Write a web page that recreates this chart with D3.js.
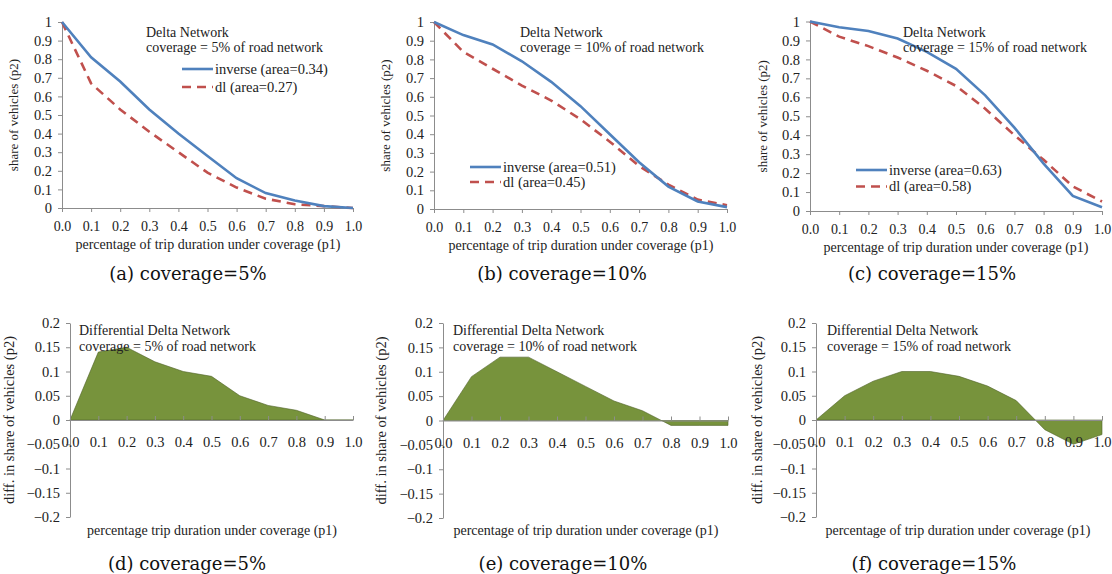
<!DOCTYPE html>
<html>
<head>
<meta charset="utf-8">
<title>Delta Network coverage</title>
<script src="https://cdn.jsdelivr.net/npm/d3@7"></script>
<style>
  body { margin: 0; background: #fff; }
  svg text { font-family: "Liberation Serif", "Times New Roman", serif; fill: #222; }
  .axis path, .axis line { stroke: #8c8c8c; }
  svg text.caption { font-family: "DejaVu Serif", serif; fill: #111; }
</style>
</head>
<body>
<script>
// x categories (p1)
var p1 = [0, 0.1, 0.2, 0.3, 0.4, 0.5, 0.6, 0.7, 0.8, 0.9, 1.0];
var xTickLabels = ["0.0", "0.1", "0.2", "0.3", "0.4", "0.5", "0.6", "0.7", "0.8", "0.9", "1.0"];

// top row: share of vehicles
var inverse5  = [1.0, 0.81, 0.68, 0.53, 0.40, 0.28, 0.16, 0.08, 0.04, 0.01, 0.00];
var dl5       = [1.0, 0.67, 0.53, 0.41, 0.30, 0.19, 0.11, 0.05, 0.02, 0.01, 0.00];
var inverse10 = [1.0, 0.93, 0.88, 0.79, 0.68, 0.55, 0.40, 0.25, 0.12, 0.04, 0.01];
var dl10      = [1.0, 0.84, 0.75, 0.66, 0.58, 0.48, 0.36, 0.23, 0.13, 0.05, 0.02];
var inverse15 = [1.0, 0.97, 0.95, 0.91, 0.84, 0.75, 0.61, 0.44, 0.25, 0.08, 0.02];
var dl15      = [1.0, 0.92, 0.87, 0.81, 0.74, 0.66, 0.54, 0.40, 0.27, 0.13, 0.05];

// bottom row: differential
var diff5  = [0, 0.14, 0.15, 0.12, 0.10, 0.09, 0.05, 0.03, 0.02, 0.00, 0.00];
var diff10 = [0, 0.09, 0.13, 0.13, 0.10, 0.07, 0.04, 0.02, -0.01, -0.01, -0.01];
var diff15 = [0, 0.05, 0.08, 0.10, 0.10, 0.09, 0.07, 0.04, -0.02, -0.05, -0.03];

var topYTicks = [0, 0.1, 0.2, 0.3, 0.4, 0.5, 0.6, 0.7, 0.8, 0.9, 1];
var bottomYTicks = [-0.2, -0.15, -0.1, -0.05, 0, 0.05, 0.1, 0.15, 0.2];

var coverages = ["5%", "10%", "15%"];
var areaLabels = [["0.34", "0.27"], ["0.51", "0.45"], ["0.63", "0.58"]];

var svg = d3.select("body").append("svg")
    .attr("width", 1112)
    .attr("height", 574)
    .attr("font-family", "Liberation Serif, serif");

var blue = "#4f81bd", red = "#c0504d", green = "#77933c";

function fmtY(d) {
    return d3.format("~g")(d);
}

function serifAxis(a, size) {
    a.attr("font-family", null).attr("font-size", null);
    a.selectAll("text").style("font-size", size).attr("fill", "#222");
}

// ---- top row: line charts ----
function lineChart(opt) {
    var x = d3.scaleLinear().domain([0, 1]).range([opt.x0, opt.x1]);
    var y = d3.scaleLinear().domain([0, 1]).range([opt.y1, opt.y0]);
    var g = svg.append("g");

    g.append("g").attr("class", "axis")
        .attr("transform", "translate(" + opt.x0 + ",0)")
        .call(d3.axisLeft(y).tickValues(topYTicks).tickFormat(fmtY).tickSize(4).tickSizeOuter(0).tickPadding(6))
        .call(serifAxis, "14.5px");

    g.append("g").attr("class", "axis")
        .attr("transform", "translate(0," + opt.y1 + ")")
        .call(d3.axisBottom(x).tickValues(p1).tickFormat(function (d, i) { return xTickLabels[i]; })
            .tickSize(4).tickSizeOuter(0).tickPadding(9))
        .call(serifAxis, "14px");

    var line = d3.line()
        .x(function (d, i) { return x(p1[i]); })
        .y(function (d) { return y(d); });

    g.append("path").datum(opt.dl)
        .attr("d", line).attr("fill", "none")
        .attr("stroke", red).attr("stroke-width", 2.6)
        .attr("stroke-dasharray", "9,6");
    g.append("path").datum(opt.inv)
        .attr("d", line).attr("fill", "none")
        .attr("stroke", blue).attr("stroke-width", 2.6);

    // title
    g.append("text").attr("x", opt.tx).attr("y", 37).style("font-size", "14px").text("Delta Network");
    g.append("text").attr("x", opt.tx).attr("y", 52).style("font-size", "14px")
        .text("coverage = " + opt.cov + " of road network");

    // legend
    [[blue, null, "inverse (area=" + opt.areas[0] + ")"], [red, "9,6", "dl (area=" + opt.areas[1] + ")"]]
        .forEach(function (L, i) {
            var ly = opt.ly + i * opt.ls;
            g.append("line").attr("x1", opt.lx).attr("x2", opt.lx + 31).attr("y1", ly).attr("y2", ly)
                .attr("stroke", L[0]).attr("stroke-width", 2.6).attr("stroke-dasharray", L[1]);
            g.append("text").attr("x", opt.lx + 33).attr("y", ly + 4.5).style("font-size", "14.5px").text(L[2]);
        });

    // axis titles
    g.append("text").attr("transform", "translate(" + opt.yt + "," + ((opt.y0 + opt.y1) / 2) + ") rotate(-90)")
        .attr("text-anchor", "middle").style("font-size", "13px").text("share of vehicles (p2)");
    g.append("text").attr("x", opt.xt).attr("y", opt.y1 + 41).attr("text-anchor", "middle").style("font-size", "14px")
        .text("percentage of trip duration under coverage (p1)");

    g.append("text").attr("class", "caption").attr("x", opt.cx).attr("y", 280).attr("text-anchor", "middle")
        .style("font-size", "18px").text(opt.cap);
}

// ---- bottom row: area charts ----
function areaChart(opt) {
    var x = d3.scaleLinear().domain([0, 1]).range([opt.x0, opt.x1]);
    var y = d3.scaleLinear().domain([-0.2, 0.2]).range([opt.y1, opt.y0]);
    var g = svg.append("g");

    var area = d3.area()
        .x(function (d, i) { return x(p1[i]); })
        .y0(y(0))
        .y1(function (d) { return y(d); });

    g.append("path").datum(opt.diff)
        .attr("d", area).attr("fill", green)
        .attr("stroke", "#4f6228").attr("stroke-width", 0.6);

    g.append("g").attr("class", "axis")
        .attr("transform", "translate(" + opt.x0 + ",0)")
        .call(d3.axisLeft(y).tickValues(bottomYTicks).tickFormat(fmtY).tickSize(4).tickSizeOuter(0).tickPadding(6))
        .call(serifAxis, "14.5px");

    // zero line with ticks pointing up
    g.append("g").attr("class", "axis")
        .attr("transform", "translate(0," + y(0) + ")")
        .call(d3.axisTop(x).tickValues(p1).tickFormat("").tickSize(4).tickSizeOuter(0));

    // category labels below the zero line
    g.append("g")
        .attr("transform", "translate(0," + (y(0) + 17) + ")")
        .call(d3.axisBottom(x).tickValues(p1).tickFormat(function (d, i) { return xTickLabels[i]; })
            .tickSize(0).tickPadding(0))
        .call(function (a) {
            a.select(".domain").remove();
            serifAxis(a, "14.5px");
        });

    g.append("text").attr("x", opt.tx).attr("y", 335).style("font-size", "14px").text("Differential Delta Network");
    g.append("text").attr("x", opt.tx).attr("y", 351).style("font-size", "14px")
        .text("coverage = " + opt.cov + " of road network");

    g.append("text").attr("transform", "translate(" + opt.yt + "," + ((opt.y0 + opt.y1) / 2) + ") rotate(-90)")
        .attr("text-anchor", "middle").style("font-size", "14.5px").text("diff. in share of vehicles (p2)");
    g.append("text").attr("x", opt.xt).attr("y", 535).attr("text-anchor", "middle").style("font-size", "14px")
        .text(opt.xtitle);

    g.append("text").attr("class", "caption").attr("x", opt.cx).attr("y", 570).attr("text-anchor", "middle")
        .style("font-size", "18px").text(opt.cap);
}

var topPanels = [
    {x0: 62, x1: 353, y0: 22, y1: 208, inv: inverse5, dl: dl5, tx: 146, lx: 182, ly: 69, ls: 18, yt: 18, xt: 208, cx: 188, cap: "(a)  coverage=5%"},
    {x0: 434, x1: 727, y0: 22, y1: 209, inv: inverse10, dl: dl10, tx: 520, lx: 470, ly: 167, ls: 15, yt: 390, xt: 581, cx: 562, cap: "(b)  coverage=10%"},
    {x0: 810, x1: 1102, y0: 21.5, y1: 211, inv: inverse15, dl: dl15, tx: 903, lx: 856, ly: 170, ls: 16.5, yt: 767, xt: 956, cx: 932, cap: "(c)  coverage=15%"}
];
topPanels.forEach(function (p, i) {
    p.cov = coverages[i];
    p.areas = areaLabels[i];
    lineChart(p);
});

var bottomPanels = [
    {x0: 70, x1: 353, y0: 323, y1: 517, diff: diff5, tx: 79, yt: 14, xt: 212, cx: 187, cap: "(d)  coverage=5%",
        xtitle: "percentage trip duration under coverage (p1)"},
    {x0: 443, x1: 728, y0: 323, y1: 518, diff: diff10, tx: 453, yt: 386, xt: 586, cx: 563, cap: "(e)  coverage=10%",
        xtitle: "percentage of trip duration under coverage (p1)"},
    {x0: 816, x1: 1102, y0: 323, y1: 517, diff: diff15, tx: 827, yt: 762, xt: 958, cx: 934, cap: "(f)  coverage=15%",
        xtitle: "percentage of trip duration under coverage (p1)"}
];
bottomPanels.forEach(function (p, i) {
    p.cov = coverages[i];
    areaChart(p);
});
</script>
</body>
</html>
